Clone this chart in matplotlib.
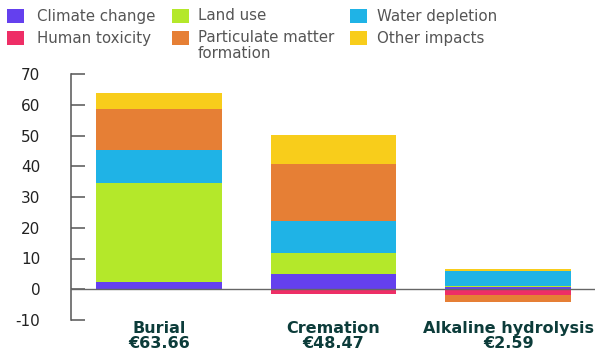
import numpy as np
import matplotlib.pyplot as plt
from matplotlib.patches import Rectangle

plt.rcParams['axes.unicode_minus'] = False

# methods and their total cost per body
methods = ['Burial', 'Cremation', 'Alkaline hydrolysis']
totals = ['€63.66', '€48.47', '€2.59']

# impact categories (values in euro)
climate_change = [2.2, 5.0, 0.7]
human_toxicity = [0.0, -1.5, -1.9]
land_use = [32.4, 6.8, 0.5]
water_depletion = [10.7, 10.3, 4.7]
particulate = [13.2, 18.5, -2.2]
other_impacts = [5.2, 9.4, 0.8]

series = [
    ('Climate change', climate_change, '#6440ee'),
    ('Human toxicity', human_toxicity, '#ee2e66'),
    ('Land use', land_use, '#b4e82a'),
    ('Water depletion', water_depletion, '#1fb3e6'),
    ('Particulate matter\nformation', particulate, '#e67f35'),
    ('Other impacts', other_impacts, '#f8cd1b'),
]

fig = plt.figure(figsize=(6.06, 3.52), dpi=100)
ax = fig.add_axes([71 / 606, 32 / 352, 524 / 606, 246 / 352])

x = np.arange(len(methods))
pos = np.zeros(len(methods))
neg = np.zeros(len(methods))
for name, vals, col in series:
    vals = np.array(vals)
    bottom = np.where(vals >= 0, pos, neg)
    ax.bar(x, vals, width=0.72, bottom=bottom, color=col, linewidth=0, zorder=2)
    pos = pos + np.clip(vals, 0, None)
    neg = neg + np.clip(vals, None, 0)

ax.axhline(0, color='#666666', linewidth=1, zorder=3)
ax.set_xlim(-0.503, 2.497)
ax.set_ylim(-10, 70)
ax.set_yticks(range(-10, 71, 10))
for s in ['top', 'right', 'bottom']:
    ax.spines[s].set_visible(False)
ax.spines['left'].set_color('#555555')
ax.spines['left'].set_linewidth(1.1)
ax.tick_params(axis='y', direction='in', length=10, width=1.1, color='#555555',
               labelsize=11, labelcolor='#222222', pad=22)
ax.set_xticks(x)
ax.set_xticklabels([f'{m}\n{t}' for m, t in zip(methods, totals)],
                   fontweight='bold', fontsize=11.5, color='#0c3c3a', linespacing=0.95)
ax.tick_params(axis='x', length=0, pad=1)

# legend: three columns, two rows
legend_order = [0, 2, 3, 1, 4, 5]
sq_x = [7, 172, 350]
txt_x = [37, 198, 377]
row_y = [16, 38]
for k, idx in enumerate(legend_order):
    name, _, col = series[idx]
    r, c = divmod(k, 3)
    yc = row_y[r]
    fig.patches.append(Rectangle((sq_x[c] / 606, (352 - yc - 6.5) / 352), 17 / 606, 13 / 352,
                                 transform=fig.transFigure, facecolor=col, edgecolor='none'))
    if '\n' in name:
        fig.text(txt_x[c] / 606, (352 - yc + 8) / 352, name, fontsize=10.8, color='#555555',
                 va='top', ha='left', linespacing=1.05)
    else:
        fig.text(txt_x[c] / 606, (352 - yc) / 352, name, fontsize=10.8, color='#555555',
                 va='center', ha='left')

fig.savefig('out.png', dpi=100)
